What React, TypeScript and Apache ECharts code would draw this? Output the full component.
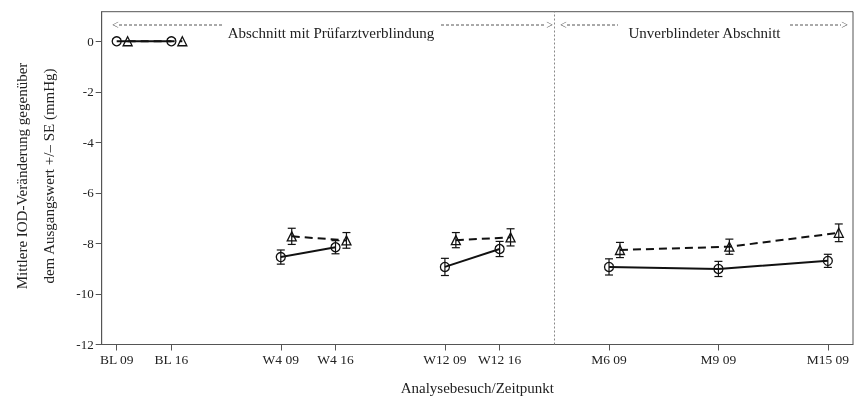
import React, { useEffect, useRef } from "react";
import * as echarts from "echarts";

const visits = ["BL 09", "BL 16", "W4 09", "W4 16", "W12 09", "W12 16", "M6 09", "M9 09", "M15 09"];
const visitPos = [0, 1, 3, 4, 6, 7, 9, 11, 13];
const circleMean = [0, 0, -8.54, -8.15, -8.93, -8.22, -8.93, -9.01, -8.69];
const circleSE = [0, 0, 0.28, 0.26, 0.34, 0.3, 0.32, 0.3, 0.26];
const triMean = [0, 0, -7.72, -7.88, -7.87, -7.76, -8.26, -8.13, -7.58];
const triSE = [0, 0, 0.32, 0.31, 0.3, 0.34, 0.3, 0.3, 0.35];
const segments = [[0, 1], [2, 3], [4, 5], [6, 7, 8]];
const yTicks = [0, -2, -4, -6, -8, -10, -12];
const dividerPos = 8;
const triOffset = 0.2;

const FONT = "Liberation Serif";
const INK = "#111";
const FRAME = "#555";

export default function App() {
  const ref = useRef<HTMLDivElement>(null);
  useEffect(() => {
    const chart = echarts.init(ref.current!, undefined, { renderer: "svg" });

    const lineSeries: any[] = [];
    segments.forEach((seg, k) => {
      lineSeries.push({
        type: "line",
        data: seg.map((i) => [visitPos[i], circleMean[i]]),
        symbol: "circle",
        symbolSize: 9,
        lineStyle: { color: INK, width: 2 },
        itemStyle: { color: "rgba(0,0,0,0)", borderColor: INK, borderWidth: 1.3 },
        z: 3,
        markLine:
          k === 0
            ? {
                silent: true,
                symbol: "none",
                label: { show: false },
                lineStyle: { color: "#888", type: [2, 2], width: 1 },
                data: [{ xAxis: dividerPos }],
              }
            : undefined,
      });
      lineSeries.push({
        type: "line",
        data: seg.map((i) => [visitPos[i] + triOffset, triMean[i]]),
        symbol: "triangle",
        symbolSize: 9,
        lineStyle: { color: INK, width: 2, type: [8, 5] },
        itemStyle: { color: "rgba(0,0,0,0)", borderColor: INK, borderWidth: 1.3 },
        z: 2,
      });
    });

    const errData: number[][] = [];
    visitPos.forEach((p, i) => {
      if (circleSE[i] > 0) errData.push([p, circleMean[i], circleSE[i]]);
      if (triSE[i] > 0) errData.push([p + triOffset, triMean[i], triSE[i]]);
    });

    const errSeries = {
      type: "custom",
      data: errData,
      z: 4,
      renderItem: (params: any, api: any) => {
        const x = api.value(0);
        const m = api.value(1);
        const se = api.value(2);
        const top = api.coord([x, m + se]);
        const bot = api.coord([x, m - se]);
        const cap = 4;
        const style = { stroke: INK, lineWidth: 1.2 };
        return {
          type: "group",
          children: [
            { type: "line", shape: { x1: top[0], y1: top[1], x2: bot[0], y2: bot[1] }, style },
            { type: "line", shape: { x1: top[0] - cap, y1: top[1], x2: top[0] + cap, y2: top[1] }, style },
            { type: "line", shape: { x1: bot[0] - cap, y1: bot[1], x2: bot[0] + cap, y2: bot[1] }, style },
          ],
        };
      },
    };

    const dash = { stroke: "#555", lineWidth: 1, lineDash: [3, 2] };
    const arrowText = (x: number, t: string, align: string) => ({
      type: "text",
      x,
      y: 25,
      style: { text: t, fontFamily: FONT, fontSize: 12, fill: "#555", textAlign: align, textVerticalAlign: "middle" },
    });
    const hdr = (x: number, t: string) => ({
      type: "text",
      x,
      y: 32.5,
      style: { text: t, fontFamily: FONT, fontSize: 15, fill: "#222", textAlign: "center", textVerticalAlign: "middle" },
    });
    const dl = (x1: number, x2: number) => ({ type: "line", shape: { x1, y1: 25, x2, y2: 25 }, style: dash });

    chart.setOption({
      animation: false,
      grid: {
        left: 101.7,
        right: 5,
        top: 11.7,
        bottom: 56.5,
        show: true,
        borderColor: FRAME,
        borderWidth: 1,
        backgroundColor: "transparent",
      },
      xAxis: {
        type: "value",
        min: -0.274,
        max: 13.46,
        name: "Analysebesuch/Zeitpunkt",
        nameLocation: "middle",
        nameGap: 36,
        nameTextStyle: { fontFamily: FONT, fontSize: 15, color: "#222" },
        axisLine: { show: true, onZero: false, lineStyle: { color: FRAME } },
        axisTick: { show: true, customValues: visitPos, length: 6, lineStyle: { color: FRAME } },
        axisLabel: {
          customValues: visitPos,
          fontFamily: FONT,
          fontSize: 13.5,
          color: "#222",
          margin: 8,
          formatter: (v: number) => {
            const i = visitPos.indexOf(Math.round(v * 1000) / 1000);
            return i >= 0 ? visits[i] : "";
          },
        },
        splitLine: { show: false },
      },
      yAxis: {
        type: "value",
        min: -12,
        max: 1.17,
        axisLine: { show: true, onZero: false, lineStyle: { color: FRAME } },
        axisTick: { show: true, customValues: yTicks, length: 6, lineStyle: { color: FRAME } },
        axisLabel: {
          customValues: yTicks,
          fontFamily: FONT,
          fontSize: 13,
          color: "#222",
          margin: 8,
        },
        splitLine: { show: false },
      },
      graphic: [
        {
          type: "text",
          x: 22,
          y: 176,
          rotation: Math.PI / 2,
          style: {
            text: "Mittlere IOD-Veränderung gegenüber",
            fontFamily: FONT,
            fontSize: 15,
            fill: "#222",
            textAlign: "center",
            textVerticalAlign: "middle",
          },
        },
        {
          type: "text",
          x: 48.5,
          y: 176,
          rotation: Math.PI / 2,
          style: {
            text: "dem Ausgangswert +/– SE (mmHg)",
            fontFamily: FONT,
            fontSize: 15,
            fill: "#222",
            textAlign: "center",
            textVerticalAlign: "middle",
          },
        },
        arrowText(112, "<", "left"),
        dl(119, 222),
        hdr(331, "Abschnitt mit Prüfarztverblindung"),
        dl(441, 546),
        arrowText(553, ">", "right"),
        arrowText(560, "<", "left"),
        dl(567, 618),
        hdr(704.5, "Unverblindeter Abschnitt"),
        dl(790, 841),
        arrowText(848, ">", "right"),
      ],
      series: [...lineSeries, errSeries],
    });
    return () => chart.dispose();
  }, []);
  return <div ref={ref} style={{ position: "fixed", left: 0, top: 0, width: 858, height: 401 }} />;
}
